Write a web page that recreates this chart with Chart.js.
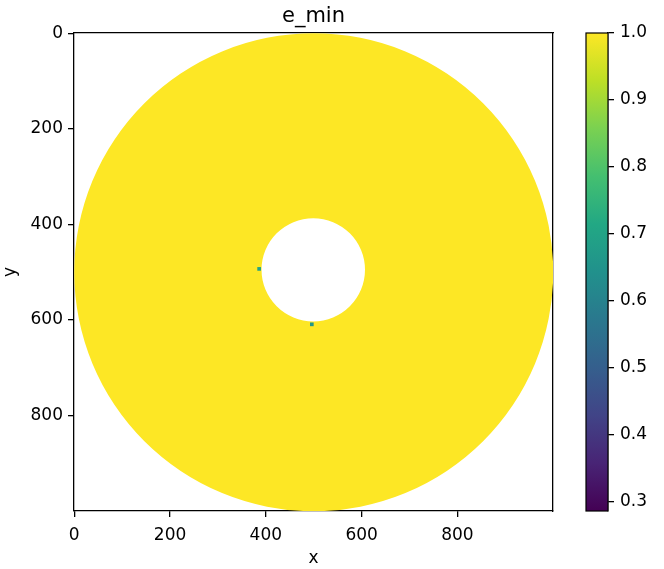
<!DOCTYPE html>
<html>
<head>
<meta charset="utf-8">
<script src="https://cdn.jsdelivr.net/npm/chart.js@4"></script>
<style>
  body { margin: 0; background: #fff; }
  #wrap { width: 664px; height: 569px; }
</style>
</head>
<body>
<div id="wrap"><canvas id="chart" width="664" height="569"></canvas></div>
<script>
const xTicks = [0, 200, 400, 600, 800];
const yTicks = [0, 200, 400, 600, 800];
const cbTicks = [0.3, 0.4, 0.5, 0.6, 0.7, 0.8, 0.9, 1.0];
const extent = [-0.5, 999.5];
const cbRange = [0.2866, 1.0];

// e_min = 1.0 over the ring
const ringCenter = [500, 500];
const ringOuter = 500;
const holeCenter = [499, 495];
const ringInner = 108;
const ringValue = 1.0;

// a couple of lower cells on the inner edge
const spotX = [386, 496];
const spotY = [493, 609];
const spotV = [0.70, 0.66];

const viridis = ['#440154', '#482475', '#414487', '#355f8d', '#2a788e', '#21918c',
                 '#22a884', '#44bf70', '#7ad151', '#bddf26', '#fde725'];

function hexRgb(h) {
    return [1, 3, 5].map(i => parseInt(h.substr(i, 2), 16));
}

function colorFor(v) {
    let t = (v - cbRange[0]) / (cbRange[1] - cbRange[0]);
    t = Math.max(0, Math.min(1, t)) * 10;
    const i = Math.min(9, Math.floor(t));
    const a = hexRgb(viridis[i]), b = hexRgb(viridis[i + 1]), f = t - i;
    return 'rgb(' + a.map((c, k) => Math.round(c + (b[k] - c) * f)).join(',') + ')';
}

function ellipse(ctx, x, y, c, r) {
    const px = x.getPixelForValue(c[0]), py = y.getPixelForValue(c[1]);
    const rx = Math.abs(x.getPixelForValue(c[0] + r) - px);
    const ry = Math.abs(y.getPixelForValue(c[1] + r) - py);
    ctx.moveTo(px + rx, py);
    ctx.ellipse(px, py, rx, ry, 0, 0, Math.PI * 2);
}

const ringPlugin = {
    id: 'ring',
    beforeDatasetsDraw(chart) {
        const { ctx, chartArea, scales: { x, y } } = chart;
        ctx.save();
        ctx.beginPath();
        ctx.rect(chartArea.left, chartArea.top, chartArea.width, chartArea.height);
        ctx.clip();
        ctx.beginPath();
        ellipse(ctx, x, y, ringCenter, ringOuter);
        ellipse(ctx, x, y, holeCenter, ringInner);
        ctx.fillStyle = colorFor(ringValue);
        ctx.fill('evenodd');
        ctx.restore();
    }
};

const colorbarPlugin = {
    id: 'colorbar',
    afterDraw(chart) {
        const { ctx, scales: { cb } } = chart;
        const top = cb.getPixelForValue(cbRange[1]);
        const bottom = cb.getPixelForValue(cbRange[0]);
        const right = cb.left, left = right - 22;
        const g = ctx.createLinearGradient(0, bottom, 0, top);
        viridis.forEach((c, i) => g.addColorStop(i / 10, c));
        ctx.save();
        ctx.fillStyle = g;
        ctx.fillRect(left, top, right - left, bottom - top);
        ctx.strokeStyle = '#000';
        ctx.lineWidth = 1.2;
        ctx.strokeRect(left, top, right - left, bottom - top);
        ctx.restore();
    }
};

const tickFont = { family: 'DejaVu Sans', size: 17 };
const gridOpts = { drawOnChartArea: false, color: '#000', tickLength: 6, lineWidth: 1.3 };
const borderOpts = { color: '#000', width: 1.3 };

new Chart(document.getElementById('chart'), {
    type: 'scatter',
    data: {
        datasets: [{
            data: spotX.map((v, i) => ({ x: v, y: spotY[i] })),
            pointStyle: 'rect',
            pointRadius: 2.6,
            borderWidth: 0,
            backgroundColor: spotV.map(colorFor)
        }]
    },
    options: {
        responsive: false,
        animation: false,
        devicePixelRatio: 1,
        layout: { padding: 0 },
        plugins: { legend: { display: false }, tooltip: { enabled: false } },
        scales: {
            x: {
                type: 'linear', position: 'bottom', min: extent[0], max: extent[1],
                afterBuildTicks: s => { s.ticks = xTicks.map(v => ({ value: v })); },
                afterFit: s => { s.height = 58; },
                grid: gridOpts, border: borderOpts,
                ticks: { color: '#000', font: tickFont, padding: 8, maxRotation: 0, autoSkip: false },
                title: { display: true, text: 'x', color: '#000', font: tickFont, padding: { top: 0, bottom: 0 } }
            },
            y: {
                type: 'linear', position: 'left', reverse: true, min: extent[0], max: extent[1],
                afterBuildTicks: s => { s.ticks = yTicks.map(v => ({ value: v })); },
                afterFit: s => { s.width = 74; },
                grid: gridOpts, border: borderOpts,
                ticks: { color: '#000', font: tickFont, padding: 5, autoSkip: false },
                title: { display: true, text: 'y', color: '#000', font: tickFont, padding: 0 }
            },
            x2: {
                type: 'linear', axis: 'x', position: 'top', min: extent[0], max: extent[1],
                afterFit: s => { s.height = 33; },
                grid: { display: false }, border: borderOpts,
                ticks: { display: false },
                title: { display: true, text: 'e_min', color: '#000',
                         font: { family: 'DejaVu Sans', size: 21 }, padding: { top: 4, bottom: 0 } }
            },
            y2: {
                type: 'linear', axis: 'y', position: 'right', weight: 0, min: extent[0], max: extent[1],
                afterFit: s => { s.width = 55; },
                grid: { display: false }, border: borderOpts,
                ticks: { display: false }
            },
            cb: {
                type: 'linear', axis: 'y', position: 'right', weight: 1, min: cbRange[0], max: cbRange[1],
                afterBuildTicks: s => { s.ticks = cbTicks.map(v => ({ value: v })); },
                afterFit: s => { s.width = 56; },
                grid: gridOpts, border: borderOpts,
                ticks: { color: '#000', font: tickFont, padding: 6, autoSkip: false,
                         callback: v => v.toFixed(1) }
            }
        }
    },
    plugins: [ringPlugin, colorbarPlugin]
});
</script>
</body>
</html>
